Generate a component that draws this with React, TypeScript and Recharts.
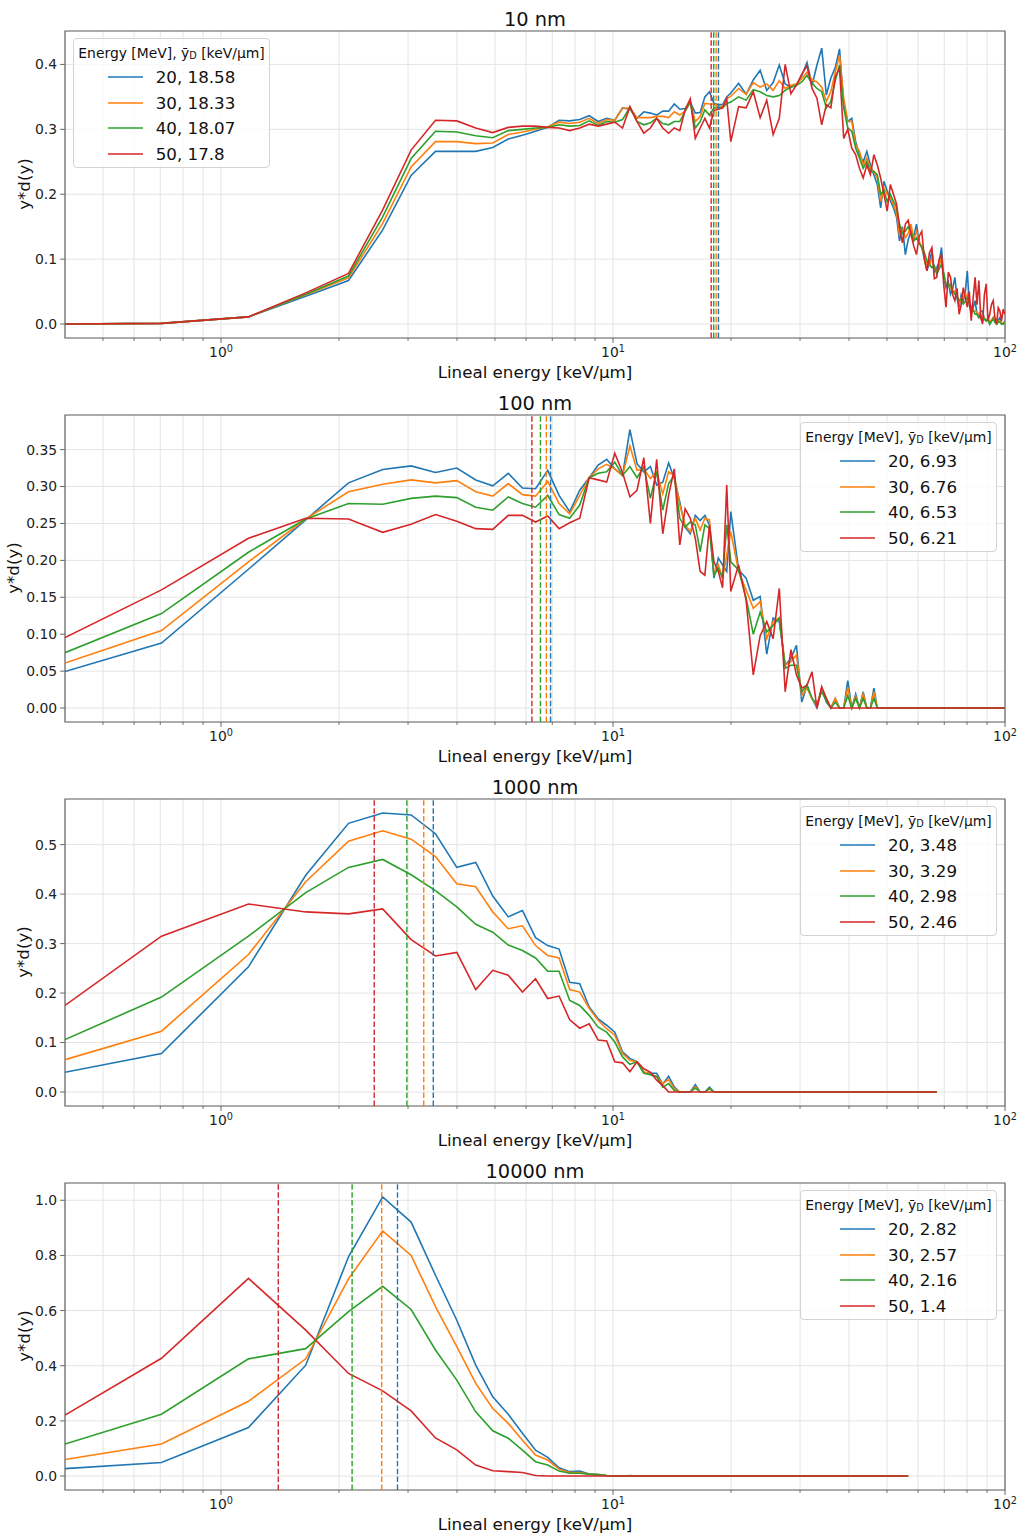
import { LineChart, Line, XAxis, YAxis, CartesianGrid, ReferenceLine, ReferenceArea } from "recharts"

const COLORS = ["#1f77b4", "#ff7f0e", "#2ca02c", "#d62728"]
const FONT = "'DejaVu Sans', sans-serif"

// bin centres of the lineal energy histogram (keV/µm)
const binCenters = [
  0.4, 0.705, 1.175, 1.645, 2.115, 2.585, 3.055, 3.525, 3.995, 4.465,
  4.935, 5.405, 5.875, 6.345, 6.815, 7.285, 7.755, 8.225, 8.695, 9.165,
  9.635, 10.105, 10.575, 11.045, 11.515, 11.985, 12.455, 12.925, 13.395, 13.865,
  14.335, 14.805, 15.275, 15.745, 16.215, 16.685, 17.155, 17.625, 18.095, 18.565,
  19.035, 19.505, 19.975,
  20.915, 21.855, 22.795, 23.735, 24.675, 25.615, 26.555, 27.495, 28.435, 29.375,
  30.315, 31.255, 32.195, 33.135, 34.075, 35.015, 35.955, 36.895, 37.835, 38.775,
  39.715, 40.655, 41.595, 42.535, 43.475, 44.415, 45.355, 46.295, 47.235, 48.175,
  49.115, 50.055, 50.995, 51.935, 52.875, 53.815, 54.755, 55.695, 56.635, 57.575,
  58.515, 59.455, 60.395, 61.335, 62.275, 63.215, 64.155, 65.095, 66.035, 66.975,
  67.915, 68.855, 69.795, 70.735, 71.675, 72.615, 73.555, 74.495, 75.435, 76.375,
  77.315, 78.255, 79.195, 80.135, 81.075, 82.015, 82.955, 83.895, 84.835, 85.775,
  86.715, 87.655, 88.595, 89.535, 90.475, 91.415, 92.355, 93.295, 94.235, 95.175,
  96.115, 97.055, 97.995, 98.935, 99.875,
]

const energies = [20, 30, 40, 50]
const yD10 = [18.58, 18.33, 18.07, 17.8]
const yD100 = [6.93, 6.76, 6.53, 6.21]
const yD1000 = [3.48, 3.29, 2.98, 2.46]
const yD10000 = [2.82, 2.57, 2.16, 1.4]

// ---- 10 nm ----
const nm10_e20 = [
  0, 0.001, 0.011, 0.043, 0.067, 0.145, 0.229, 0.266, 0.266, 0.266,
  0.272, 0.285, 0.291, 0.297, 0.303, 0.314, 0.313, 0.315, 0.321, 0.312,
  0.317, 0.314, 0.333, 0.331, 0.317, 0.327, 0.325, 0.322, 0.328, 0.328,
  0.339, 0.331, 0.332, 0.342, 0.325, 0.326, 0.35, 0.358, 0.34, 0.338,
  0.338, 0.35, 0.356,
  0.371, 0.354, 0.376, 0.391, 0.36, 0.372, 0.399, 0.37, 0.365, 0.368,
  0.383, 0.403, 0.368, 0.399, 0.425, 0.353, 0.379, 0.395, 0.424, 0.338,
  0.312, 0.317, 0.281, 0.261, 0.25, 0.266, 0.245, 0.23, 0.215, 0.179,
  0.22, 0.205, 0.19, 0.179, 0.165, 0.128, 0.15, 0.107, 0.13, 0.143,
  0.135, 0.154, 0.125, 0.118, 0.1, 0.082, 0.095, 0.113, 0.08, 0.087,
  0.095, 0.118, 0.07, 0.056, 0.065, 0.046, 0.055, 0.072, 0.04, 0.026,
  0.045, 0.036, 0.05, 0.082, 0.03, 0.015, 0.025, 0.036, 0.015, 0.01,
  0.02, 0.02, 0.008, 0.005, 0.01, 0, 0.005, 0.01, 0.003, 0,
  0.006, 0.01, 0, 0, 0.005,
]
const nm10_e30 = [
  0, 0.001, 0.011, 0.045, 0.071, 0.155, 0.242, 0.281, 0.281, 0.278,
  0.279, 0.292, 0.296, 0.3, 0.304, 0.311, 0.309, 0.311, 0.317, 0.309,
  0.315, 0.314, 0.332, 0.333, 0.318, 0.318, 0.318, 0.32, 0.32, 0.318,
  0.327, 0.322, 0.328, 0.342, 0.312, 0.32, 0.34, 0.339, 0.339, 0.335,
  0.335, 0.347, 0.351,
  0.363, 0.354, 0.372, 0.365, 0.37, 0.36, 0.375, 0.363, 0.368, 0.37,
  0.378, 0.388, 0.376, 0.373, 0.365, 0.343, 0.358, 0.388, 0.414, 0.348,
  0.312, 0.312, 0.276, 0.266, 0.245, 0.256, 0.24, 0.235, 0.225, 0.189,
  0.21, 0.2, 0.195, 0.184, 0.172, 0.138, 0.145, 0.133, 0.14, 0.154,
  0.13, 0.143, 0.128, 0.118, 0.105, 0.092, 0.09, 0.102, 0.085, 0.082,
  0.09, 0.102, 0.075, 0.061, 0.06, 0.056, 0.05, 0.051, 0.045, 0.031,
  0.04, 0.041, 0.04, 0.046, 0.035, 0.026, 0.02, 0.02, 0.018, 0.015,
  0.015, 0.01, 0.01, 0.005, 0.008, 0.003, 0.006, 0.01, 0.004, 0,
  0.004, 0.005, 0.002, 0, 0.003,
]
const nm10_e40 = [
  0, 0.001, 0.011, 0.046, 0.074, 0.165, 0.255, 0.297, 0.296, 0.29,
  0.287, 0.298, 0.3, 0.302, 0.303, 0.307, 0.305, 0.306, 0.313, 0.306,
  0.312, 0.311, 0.315, 0.334, 0.312, 0.307, 0.31, 0.317, 0.309, 0.307,
  0.312, 0.312, 0.328, 0.342, 0.302, 0.312, 0.33, 0.322, 0.333, 0.333,
  0.333, 0.34, 0.342,
  0.35, 0.345, 0.361, 0.358, 0.352, 0.35, 0.352, 0.36, 0.365, 0.368,
  0.373, 0.383, 0.371, 0.363, 0.358, 0.333, 0.343, 0.375, 0.399, 0.333,
  0.302, 0.297, 0.271, 0.256, 0.24, 0.25, 0.235, 0.235, 0.23, 0.2,
  0.205, 0.189, 0.2, 0.189, 0.18, 0.154, 0.14, 0.143, 0.15, 0.143,
  0.128, 0.133, 0.125, 0.118, 0.11, 0.097, 0.092, 0.087, 0.09, 0.077,
  0.085, 0.092, 0.078, 0.061, 0.058, 0.061, 0.052, 0.046, 0.042, 0.036,
  0.038, 0.031, 0.035, 0.041, 0.032, 0.026, 0.022, 0.015, 0.015, 0.01,
  0.012, 0.005, 0.008, 0.005, 0.006, 0, 0.004, 0.008, 0.003, 0,
  0.003, 0.003, 0, 0, 0.002,
]
const nm10_e50 = [
  0, 0.001, 0.011, 0.048, 0.078, 0.176, 0.268, 0.314, 0.313, 0.302,
  0.295, 0.303, 0.305, 0.305, 0.303, 0.302, 0.298, 0.302, 0.308, 0.305,
  0.308, 0.311, 0.302, 0.335, 0.312, 0.294, 0.302, 0.317, 0.302, 0.294,
  0.302, 0.298, 0.33, 0.347, 0.286, 0.302, 0.317, 0.302, 0.329, 0.331,
  0.333, 0.347, 0.281,
  0.335, 0.333, 0.358, 0.318, 0.345, 0.292, 0.317, 0.4, 0.355, 0.368,
  0.385, 0.398, 0.363, 0.348, 0.307, 0.338, 0.333, 0.381, 0.394, 0.286,
  0.3, 0.271, 0.261, 0.24, 0.225, 0.245, 0.23, 0.261, 0.245, 0.225,
  0.2, 0.174, 0.215, 0.2, 0.185, 0.149, 0.125, 0.154, 0.16, 0.138,
  0.12, 0.107, 0.135, 0.143, 0.1, 0.082, 0.11, 0.118, 0.07, 0.072,
  0.1, 0.107, 0.06, 0.026, 0.08, 0.072, 0.045, 0.036, 0.055, 0.015,
  0.03, 0.056, 0.04, 0.026, 0.05, 0.005, 0.04, 0.072, 0.03, 0.067,
  0.01, 0, 0.045, 0.062, 0.005, 0.015, 0.03, 0.036, 0.01, 0,
  0.025, 0.02, 0.005, 0.023, 0.015,
]

// ---- 100 nm ----
const nm100_e20 = [
  0.0495, 0.088, 0.188, 0.255, 0.305, 0.323, 0.328, 0.319, 0.325, 0.309,
  0.301, 0.318, 0.298, 0.297, 0.322, 0.288, 0.266, 0.295, 0.312, 0.329,
  0.337, 0.324, 0.315, 0.377, 0.331, 0.32, 0.327, 0.302, 0.306, 0.332,
  0.311, 0.279, 0.245, 0.236, 0.261, 0.254, 0.261, 0.248, 0.176, 0.203,
  0.194, 0.185, 0.266,
  0.187, 0.176, 0.146, 0.151, 0.073, 0.122, 0.117, 0.058, 0.067, 0.085,
  0.008, 0.031, 0.013, 0, 0.027, 0.008, 0, 0.013, 0, 0,
  0.037, 0, 0.019, 0, 0.022, 0, 0, 0.027, 0, 0,
  0, 0, 0, 0, 0, 0, 0, 0, 0, 0,
  0, 0, 0, 0, 0, 0, 0, 0, 0, 0,
  0, 0, 0, 0, 0, 0, 0, 0, 0, 0,
  0, 0, 0, 0, 0, 0, 0, 0, 0, 0,
  0, 0, 0, 0, 0, 0, 0, 0, 0, 0,
  0, 0, 0, 0, 0,
]
const nm100_e30 = [
  0.061, 0.105, 0.198, 0.256, 0.293, 0.303, 0.309, 0.305, 0.308, 0.293,
  0.287, 0.304, 0.289, 0.287, 0.307, 0.277, 0.263, 0.288, 0.312, 0.324,
  0.33, 0.324, 0.315, 0.355, 0.322, 0.324, 0.311, 0.32, 0.29, 0.32,
  0.315, 0.275, 0.248, 0.239, 0.257, 0.241, 0.257, 0.255, 0.182, 0.194,
  0.176, 0.207, 0.239,
  0.185, 0.16, 0.135, 0.144, 0.094, 0.117, 0.122, 0.058, 0.063, 0.072,
  0.017, 0.027, 0.013, 0.003, 0.027, 0.013, 0, 0.013, 0, 0,
  0.028, 0, 0.016, 0, 0.019, 0, 0, 0.022, 0, 0,
  0, 0, 0, 0, 0, 0, 0, 0, 0, 0,
  0, 0, 0, 0, 0, 0, 0, 0, 0, 0,
  0, 0, 0, 0, 0, 0, 0, 0, 0, 0,
  0, 0, 0, 0, 0, 0, 0, 0, 0, 0,
  0, 0, 0, 0, 0, 0, 0, 0, 0, 0,
  0, 0, 0, 0, 0,
]
const nm100_e40 = [
  0.075, 0.128, 0.211, 0.256, 0.277, 0.276, 0.284, 0.287, 0.285, 0.272,
  0.268, 0.286, 0.277, 0.272, 0.288, 0.262, 0.257, 0.275, 0.312, 0.318,
  0.32, 0.333, 0.315, 0.327, 0.312, 0.327, 0.284, 0.32, 0.268, 0.304,
  0.315, 0.257, 0.245, 0.252, 0.248, 0.212, 0.248, 0.243, 0.18, 0.189,
  0.176, 0.248, 0.198,
  0.187, 0.149, 0.1, 0.13, 0.103, 0.112, 0.122, 0.054, 0.058, 0.058,
  0.022, 0.031, 0.013, 0.005, 0.022, 0.01, 0, 0.008, 0, 0,
  0.017, 0, 0.013, 0, 0.013, 0, 0, 0.013, 0, 0,
  0, 0, 0, 0, 0, 0, 0, 0, 0, 0,
  0, 0, 0, 0, 0, 0, 0, 0, 0, 0,
  0, 0, 0, 0, 0, 0, 0, 0, 0, 0,
  0, 0, 0, 0, 0, 0, 0, 0, 0, 0,
  0, 0, 0, 0, 0, 0, 0, 0, 0, 0,
  0, 0, 0, 0, 0,
]
const nm100_e50 = [
  0.0955, 0.16, 0.23, 0.257, 0.256, 0.238, 0.249, 0.262, 0.253, 0.243,
  0.242, 0.261, 0.261, 0.252, 0.26, 0.243, 0.251, 0.257, 0.312, 0.309,
  0.306, 0.345, 0.319, 0.286, 0.295, 0.339, 0.25, 0.337, 0.236, 0.288,
  0.324, 0.221, 0.27, 0.257, 0.23, 0.185, 0.18, 0.248, 0.198, 0.185,
  0.163, 0.302, 0.158,
  0.194, 0.146, 0.045, 0.098, 0.117, 0.094, 0.162, 0.022, 0.079, 0.045,
  0.027, 0.031, 0.049, 0, 0.029, 0.013, 0, 0, 0, 0,
  0, 0, 0, 0, 0, 0, 0, 0, 0, 0,
  0, 0, 0, 0, 0, 0, 0, 0, 0, 0,
  0, 0, 0, 0, 0, 0, 0, 0, 0, 0,
  0, 0, 0, 0, 0, 0, 0, 0, 0, 0,
  0, 0, 0, 0, 0, 0, 0, 0, 0, 0,
  0, 0, 0, 0, 0, 0, 0, 0, 0, 0,
  0, 0, 0, 0, 0,
]

// ---- 1000 nm ----
const nm1000_e20 = [
  0.04, 0.078, 0.253, 0.438, 0.543, 0.564, 0.56, 0.522, 0.454, 0.464,
  0.396, 0.354, 0.367, 0.312, 0.296, 0.289, 0.222, 0.219, 0.172, 0.148,
  0.135, 0.121, 0.081, 0.068, 0.061, 0.039, 0.038, 0.038, 0.016, 0.032,
  0.01, 0, 0, 0, 0.015, 0, 0, 0.01, 0, 0,
  0, 0, 0,
  0, 0, 0, 0, 0, 0, 0, 0, 0, 0,
  0, 0, 0, 0, 0, 0, 0, 0, 0, 0,
  0, 0, 0, 0, 0, 0, 0, 0, 0, 0,
  0, 0, 0, 0, 0, 0, 0, 0, 0, 0,
  0, 0, 0, 0, 0, 0, 0, 0, 0, 0,
]
const nm1000_e30 = [
  0.0655, 0.123, 0.278, 0.425, 0.507, 0.528, 0.511, 0.476, 0.421, 0.415,
  0.364, 0.33, 0.336, 0.296, 0.276, 0.271, 0.207, 0.202, 0.169, 0.145,
  0.128, 0.115, 0.078, 0.064, 0.061, 0.041, 0.036, 0.032, 0.017, 0.025,
  0.007, 0, 0, 0, 0.011, 0, 0, 0.007, 0, 0,
  0, 0, 0,
  0, 0, 0, 0, 0, 0, 0, 0, 0, 0,
  0, 0, 0, 0, 0, 0, 0, 0, 0, 0,
  0, 0, 0, 0, 0, 0, 0, 0, 0, 0,
  0, 0, 0, 0, 0, 0, 0, 0, 0, 0,
  0, 0, 0, 0, 0, 0, 0, 0, 0, 0,
]
const nm1000_e40 = [
  0.106, 0.192, 0.315, 0.403, 0.454, 0.47, 0.439, 0.407, 0.374, 0.339,
  0.323, 0.297, 0.286, 0.271, 0.244, 0.244, 0.185, 0.175, 0.155, 0.131,
  0.121, 0.101, 0.071, 0.056, 0.061, 0.038, 0.035, 0.031, 0.01, 0.017,
  0.003, 0, 0, 0, 0.008, 0, 0, 0.007, 0, 0,
  0, 0, 0,
  0, 0, 0, 0, 0, 0, 0, 0, 0, 0,
  0, 0, 0, 0, 0, 0, 0, 0, 0, 0,
  0, 0, 0, 0, 0, 0, 0, 0, 0, 0,
  0, 0, 0, 0, 0, 0, 0, 0, 0, 0,
  0, 0, 0, 0, 0, 0, 0, 0, 0, 0,
]
const nm1000_e50 = [
  0.175, 0.315, 0.38, 0.364, 0.36, 0.37, 0.308, 0.275, 0.282, 0.207,
  0.246, 0.236, 0.202, 0.229, 0.189, 0.194, 0.146, 0.129, 0.138, 0.105,
  0.103, 0.061, 0.059, 0.041, 0.061, 0.047, 0.04, 0.024, 0.013, 0,
  0, 0, 0, 0, 0, 0, 0, 0, 0, 0,
  0, 0, 0,
  0, 0, 0, 0, 0, 0, 0, 0, 0, 0,
  0, 0, 0, 0, 0, 0, 0, 0, 0, 0,
  0, 0, 0, 0, 0, 0, 0, 0, 0, 0,
  0, 0, 0, 0, 0, 0, 0, 0, 0, 0,
  0, 0, 0, 0, 0, 0, 0, 0, 0, 0,
]

// ---- 10000 nm ----
const nm10000_e20 = [
  0.027, 0.049, 0.176, 0.402, 0.795, 1.012, 0.921, 0.728, 0.565, 0.402,
  0.287, 0.224, 0.155, 0.094, 0.068, 0.03, 0.016, 0.018, 0.007, 0.005,
  0.002, 0, 0, 0, 0, 0, 0, 0, 0, 0,
  0, 0, 0, 0, 0, 0, 0, 0, 0, 0,
  0, 0, 0,
  0, 0, 0, 0, 0, 0, 0, 0, 0, 0,
  0, 0, 0, 0, 0, 0, 0, 0, 0, 0,
  0, 0, 0, 0, 0, 0, 0, 0, 0, 0,
  0, 0, 0, 0, 0, 0, 0, 0, 0,
]
const nm10000_e30 = [
  0.06, 0.116, 0.271, 0.425, 0.715, 0.889, 0.8, 0.614, 0.469, 0.336,
  0.245, 0.191, 0.13, 0.076, 0.058, 0.025, 0.013, 0.013, 0.007, 0.005,
  0.002, 0, 0, 0, 0, 0, 0, 0, 0, 0,
  0, 0, 0, 0, 0, 0, 0, 0, 0, 0,
  0, 0, 0,
  0, 0, 0, 0, 0, 0, 0, 0, 0, 0,
  0, 0, 0, 0, 0, 0, 0, 0, 0, 0,
  0, 0, 0, 0, 0, 0, 0, 0, 0, 0,
  0, 0, 0, 0, 0, 0, 0, 0, 0,
]
const nm10000_e40 = [
  0.116, 0.224, 0.425, 0.462, 0.596, 0.688, 0.604, 0.457, 0.348, 0.233,
  0.164, 0.137, 0.094, 0.052, 0.04, 0.018, 0.01, 0.01, 0.007, 0.005,
  0.002, 0, 0, 0.002, 0, 0, 0, 0, 0, 0,
  0, 0, 0, 0, 0, 0, 0, 0, 0, 0,
  0, 0, 0,
  0, 0, 0, 0, 0, 0, 0, 0, 0, 0,
  0, 0, 0, 0, 0, 0, 0, 0, 0, 0,
  0, 0, 0, 0, 0, 0, 0, 0, 0, 0,
  0, 0, 0, 0, 0, 0, 0, 0, 0,
]
const nm10000_e50 = [
  0.221, 0.427, 0.717, 0.529, 0.372, 0.309, 0.236, 0.138, 0.095, 0.04,
  0.019, 0.016, 0.013, 0.002, 0, 0, 0, 0, 0, 0,
  0, 0, 0, 0, 0, 0, 0, 0, 0, 0,
  0, 0, 0, 0, 0, 0, 0, 0, 0, 0,
  0, 0, 0,
  0, 0, 0, 0, 0, 0, 0, 0, 0, 0,
  0, 0, 0, 0, 0, 0, 0, 0, 0, 0,
  0, 0, 0, 0, 0, 0, 0, 0, 0, 0,
  0, 0, 0, 0, 0, 0, 0, 0, 0,
]

const xTicks = [0.5, 0.6, 0.7, 0.8, 0.9, 1, 2, 3, 4, 5, 6, 7, 8, 9, 10, 20, 30, 40, 50, 60, 70, 80, 90, 100]

interface PanelConfig {
  title: string
  series: number[][]
  yD: number[]
  yDomain: [number, number]
  yTicks: number[]
  digits: number
  legendLeft: number
  yLabelX: number
}

const panels: PanelConfig[] = [
  {
    title: "10 nm",
    series: [nm10_e20, nm10_e30, nm10_e40, nm10_e50],
    yD: yD10,
    yDomain: [-0.0215, 0.4515],
    yTicks: [0, 0.1, 0.2, 0.3, 0.4],
    digits: 1,
    legendLeft: 73,
    yLabelX: 24,
  },
  {
    title: "100 nm",
    series: [nm100_e20, nm100_e30, nm100_e40, nm100_e50],
    yD: yD100,
    yDomain: [-0.0189, 0.3969],
    yTicks: [0, 0.05, 0.1, 0.15, 0.2, 0.25, 0.3, 0.35],
    digits: 2,
    legendLeft: 800,
    yLabelX: 13,
  },
  {
    title: "1000 nm",
    series: [nm1000_e20, nm1000_e30, nm1000_e40, nm1000_e50],
    yD: yD1000,
    yDomain: [-0.0282, 0.5922],
    yTicks: [0, 0.1, 0.2, 0.3, 0.4, 0.5],
    digits: 1,
    legendLeft: 800,
    yLabelX: 23,
  },
  {
    title: "10000 nm",
    series: [nm10000_e20, nm10000_e30, nm10000_e40, nm10000_e50],
    yD: yD10000,
    yDomain: [-0.0506, 1.0626],
    yTicks: [0, 0.2, 0.4, 0.6, 0.8, 1.0],
    digits: 1,
    legendLeft: 800,
    yLabelX: 24,
  },
]

function LogTick(props: any) {
  const { x, y, payload } = props
  const lg = Math.log10(payload.value)
  const exp = Math.round(lg)
  const major = Math.abs(lg - exp) < 1e-6
  return (
    <g>
      <line x1={x} x2={x} y1={y} y2={y + (major ? 4.9 : 2.8)} stroke="#666" strokeWidth={1} />
      {major && (
        <text x={x} y={y + 19} textAnchor="middle" fontSize={13.9} fill="#222" fontFamily={FONT}>
          10
          <tspan dy={-5} fontSize={9.7}>
            {exp}
          </tspan>
        </text>
      )}
    </g>
  )
}

function Panel({ cfg, top }: { cfg: PanelConfig; top: number }) {
  const rows = binCenters.map((x, i) => {
    const row: Record<string, number | null> = { x }
    cfg.series.forEach((s, k) => {
      row["e" + energies[k]] = i < s.length ? s[i] : null
    })
    return row
  })

  return (
    <div style={{ position: "absolute", left: 0, top, width: 1022, height: 384 }}>
      <LineChart width={1022} height={384} data={rows} margin={{ top: 31, right: 17, bottom: 0, left: 0 }}>
        <CartesianGrid stroke="#e4e4e4" strokeWidth={1} />
        <XAxis
          dataKey="x"
          type="number"
          scale="log"
          domain={[0.4, 100]}
          allowDataOverflow
          ticks={xTicks}
          interval={0}
          height={46}
          tickSize={0}
          tickMargin={0}
          axisLine={false}
          tickLine={false}
          tick={<LogTick />}
        />
        <YAxis
          type="number"
          domain={cfg.yDomain}
          allowDataOverflow
          ticks={cfg.yTicks}
          interval={0}
          width={65}
          axisLine={false}
          tickSize={4.9}
          tickMargin={3}
          tickLine={{ stroke: "#666" }}
          tick={{ fontSize: 13.9, fill: "#222", fontFamily: FONT }}
          tickFormatter={(v: number) => v.toFixed(cfg.digits)}
        />
        {energies.map((e, k) => (
          <Line
            key={e}
            type="linear"
            dataKey={"e" + e}
            stroke={COLORS[k]}
            strokeWidth={1.6}
            dot={false}
            activeDot={false}
            isAnimationActive={false}
          />
        ))}
        {cfg.yD.map((v, k) => (
          <ReferenceLine
            key={k}
            x={v}
            stroke={COLORS[k]}
            strokeWidth={1.4}
            strokeDasharray="5.5 2.4"
            ifOverflow="visible"
          />
        ))}
        <ReferenceArea
          x1={0.4}
          x2={100}
          y1={cfg.yDomain[0]}
          y2={cfg.yDomain[1]}
          fill="none"
          fillOpacity={0}
          stroke="#666"
          strokeWidth={1.2}
          ifOverflow="visible"
        />
      </LineChart>

      <div
        style={{
          position: "absolute",
          left: 535,
          top: 19,
          transform: "translate(-50%, -50%)",
          fontSize: 19.4,
          fontFamily: FONT,
          color: "#111",
          whiteSpace: "nowrap",
        }}
      >
        {cfg.title}
      </div>
      <div
        style={{
          position: "absolute",
          left: 535,
          top: 372,
          transform: "translate(-50%, -50%)",
          fontSize: 16.7,
          fontFamily: FONT,
          color: "#111",
          whiteSpace: "nowrap",
        }}
      >
        Lineal energy [keV/µm]
      </div>
      <div
        style={{
          position: "absolute",
          left: cfg.yLabelX,
          top: 184,
          transform: "translate(-50%, -50%) rotate(-90deg)",
          fontSize: 16.7,
          fontFamily: FONT,
          color: "#111",
          whiteSpace: "nowrap",
        }}
      >
        y*d(y)
      </div>

      <div
        style={{
          position: "absolute",
          left: cfg.legendLeft,
          top: 38,
          width: 197,
          height: 130,
          boxSizing: "border-box",
          border: "1px solid #d3d3d3",
          borderRadius: 4,
          background: "rgba(255,255,255,0.8)",
          fontFamily: FONT,
          color: "#111",
        }}
      >
        <div style={{ textAlign: "center", fontSize: 13.9, marginTop: 5, lineHeight: "18px", whiteSpace: "nowrap" }}>
          Energy [MeV], ȳ
          <span style={{ fontSize: "0.7em", position: "relative", top: "0.15em" }}>D</span> [keV/µm]
        </div>
        <div style={{ display: "flex", justifyContent: "center" }}>
          <div>
            {energies.map((e, k) => (
              <div key={e} style={{ display: "flex", alignItems: "center", height: 25.7 }}>
                <svg width={35} height={4} style={{ marginRight: 13, display: "block" }}>
                  <line x1={0} x2={35} y1={2} y2={2} stroke={COLORS[k]} strokeWidth={1.6} />
                </svg>
                <span style={{ fontSize: 16.7, whiteSpace: "nowrap" }}>
                  {e}, {cfg.yD[k]}
                </span>
              </div>
            ))}
          </div>
        </div>
      </div>
    </div>
  )
}

export default function App() {
  return (
    <div style={{ position: "absolute", left: 0, top: 0, width: 1022, height: 1537, background: "#fff" }}>
      {panels.map((p, i) => (
        <Panel key={p.title} cfg={p} top={i * 384} />
      ))}
    </div>
  )
}
